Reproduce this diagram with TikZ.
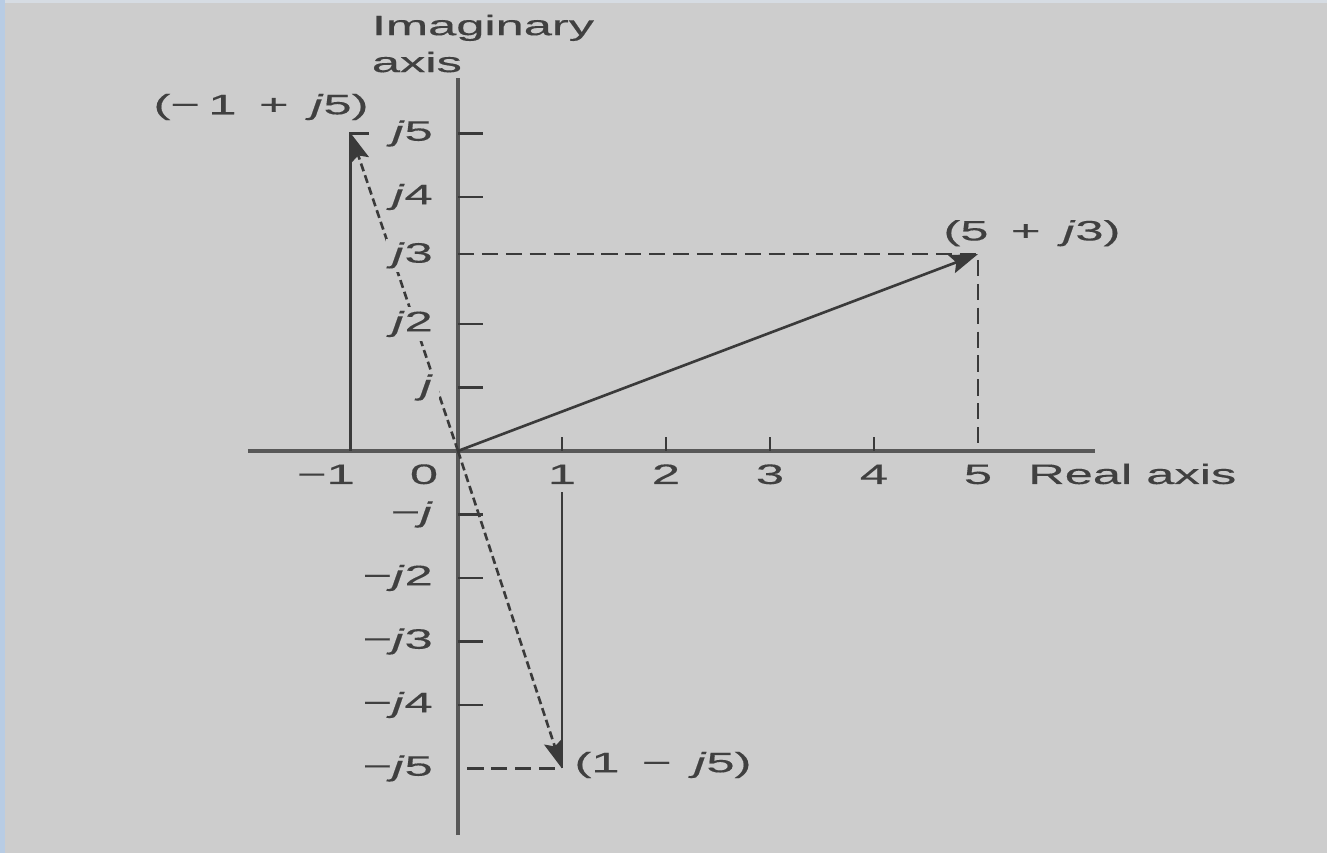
\documentclass[tikz,border=0pt]{standalone}
\usepackage{fontspec}
\setmainfont{Liberation Sans}[FakeBold=0.3]
\usetikzlibrary{arrows.meta}
\definecolor{bggray}{HTML}{CDCDCD}
\definecolor{inkgray}{HTML}{3A3A3A}
\definecolor{txtgray}{HTML}{404040}
\definecolor{edgeblue}{HTML}{B8CCE4}
\definecolor{topblue}{HTML}{D6DCE3}

\begin{document}
\begin{tikzpicture}[
    x=1.04cm, y=0.635cm,
    lbl/.style={font=\fontsize{8}{10.5}\selectfont, text=txtgray, inner sep=1pt,
      xscale=1.8},
    ilbl/.style={lbl, anchor=east, fill=bggray},
    rlbl/.style={lbl, anchor=base},
    axisline/.style={draw=inkgray!85, line width=1.05pt},
    ticmark/.style={draw=inkgray, line width=0.75pt},
    stem/.style={draw=inkgray, line width=0.85pt},
    vec/.style={draw=inkgray, line width=0.75pt, -{Stealth[length=8pt, width=5.4pt, inset=1.4pt]}},
    dvec/.style={vec, dash pattern=on 2.3pt off 1.2pt},
    proj/.style={draw=inkgray, line width=0.75pt, dash pattern=on 4.6pt off 2.2pt},
  ]
    % Background
    \path[use as bounding box, fill=bggray] (-4.404,-6.331) rectangle (8.356,7.102);
    \fill[topblue] (-4.404,7.055) rectangle (8.356,7.102);
    \fill[edgeblue] (-4.404,-6.331) rectangle (-4.356,7.102);

    % Points
    \coordinate (O) at (0,0);
    \coordinate (A) at (-1.03,5);
    \coordinate (B) at (5,3.1);
    \coordinate (C) at (1,-5);
    \coordinate (Ax) at (-1.03,0);
    \coordinate (Aend) at (-0.86,5);
    \coordinate (By) at (0,3.1);
    \coordinate (Bx) at (5,0);
    \coordinate (Cy) at (0.09,-5);
    \coordinate (Ctop) at (1,-0.65);

    % Axes
    \draw[axisline] (-2.02,0) -- (6.125,0);
    \draw[axisline] (0,-6.05) -- (0,5.87);
    \foreach \y in {5,4,2,1,-1,-2,-3,-4}
      \draw[ticmark] (0,\y) -- (0.24,\y);
    \foreach \x in {1,...,4}
      \draw[ticmark] (\x,0) -- (\x,0.22);

    % 5 + j3
    \draw[proj] (By) -- (B) -- (Bx);
    \draw[vec] (O) -- (B);

    % -1 + j5
    \draw[stem] (Ax) -- (A) -- (Aend);
    \draw[dvec] (O) -- (A);

    % 1 - j5
    \draw[stem] (Ctop) -- (C);
    \draw[proj] (Cy) -- (C);
    \draw[dvec] (O) -- (C);

    % Axis labels
    \foreach \y/\t in {5/{\textit{j}5}, 4/{\textit{j}4}, 3.08/{\textit{j}3}, 2/{\textit{j}2}, 1/{\textit{j}},
        -1/{−\textit{j}}, -2/{−\textit{j}2}, -3/{−\textit{j}3}, -4/{−\textit{j}4}, -5/{−\textit{j}5}}
      \node[ilbl] (im\y) at (-0.17,\y) {\t};
    \foreach \x in {1,...,5}
      \node[rlbl] (re\x) at (\x,-0.52) {\x};
    \node[rlbl, anchor=base east] (re-1) at (-0.92,-0.52) {−1};
    \node[rlbl] (re0) at (-0.327,-0.52) {0};
    \node[rlbl, anchor=base west] (realax) at (5.41,-0.52) {Real axis};
    \node[lbl, anchor=north west, align=left, inner sep=0pt] (imagax) at (-0.84,6.88) {Imaginary\\axis};

    % Point labels
    \node[lbl] (lA) at (-1.894,5.417) {(−\,1 \,+\, \textit{j}5)};
    \node[lbl] (lB) at (5.519,3.43) {(5 \,+\, \textit{j}3)};
    \node[lbl] (lC) at (1.971,-4.945) {(1 \,−\, \textit{j}5)};
\end{tikzpicture}
\end{document}
